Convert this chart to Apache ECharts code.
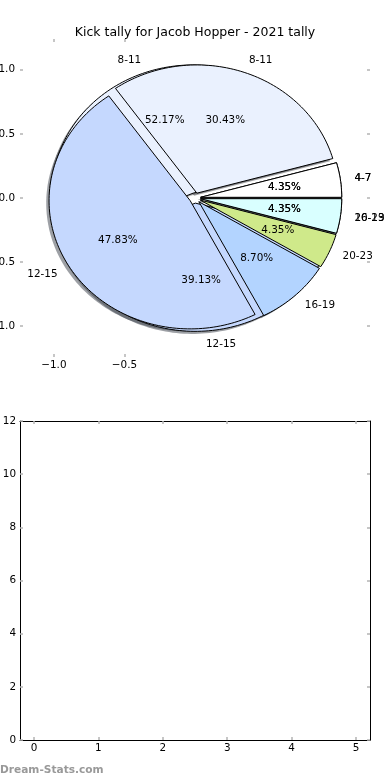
<!DOCTYPE html>
<html><head><meta charset="utf-8">
<script src="https://cdn.jsdelivr.net/npm/echarts@6/dist/echarts.min.js"></script>
<style>html,body{margin:0;padding:0;background:#fff}#c{width:390px;height:780px}</style>
</head><body><div id="c"></div>
<script>
// ---- data ----
const chartTitle = 'Kick tally for Jacob Hopper - 2021 tally';
const watermarkText = 'Dream-Stats.com';
const lowerPieLabels = ['4-7', '8-11', '12-15', '20-23'];
const lowerPieValues = [1, 12, 9, 1];
const upperPieLabels = ['4-7', '8-11', '12-15', '16-19', '20-23', '16-19'];
const upperPieValues = [1, 7, 11, 2, 1, 1];
const pieXTicks = [-1.0, -0.5];
const pieYTicks = [-1.0, -0.5, 0.0, 0.5, 1.0];
const panelXTicks = [0, 1, 2, 3, 4, 5];
const panelYTicks = [0, 2, 4, 6, 8, 10, 12];

// ---- styles ----
const WEDGE_COLORS = ['#ffffff', '#eaf1fe', '#c5d8fe', '#b3d4ff', '#cfe98a', '#d9ffff'];
const EXPLODE = 0.04, SHADOW_DX = -0.02, SHADOW_DY = -0.02;
const LABEL_DIST = 1.1, PCT_DIST = 0.6;
const FONT = '"DejaVu Sans"';
const FS = 10.4;

function layoutPie(values) {
  const total = values.reduce((a, b) => a + b, 0);
  let acc = 0;
  return values.map((v, i) => {
    const t1 = acc / total * 360; acc += v; const t2 = acc / total * 360;
    return [t1, t2, i, v / total * 100];
  });
}
function shadowColor(hex) {
  const r = parseInt(hex.slice(1, 3), 16), g = parseInt(hex.slice(3, 5), 16), b = parseInt(hex.slice(5, 7), 16);
  return 'rgba(' + Math.round(r * 0.3) + ',' + Math.round(g * 0.3) + ',' + Math.round(b * 0.3) + ',0.5)';
}
function wedgePoints(api, t1, t2, dx, dy) {
  const mid = (t1 + t2) / 2 * Math.PI / 180;
  const cx = EXPLODE * Math.cos(mid) + dx, cy = EXPLODE * Math.sin(mid) + dy;
  const pts = [api.coord([cx, cy])];
  const n = Math.max(4, Math.ceil((t2 - t1) / 1.5));
  for (let k = 0; k <= n; k++) {
    const a = (t1 + (t2 - t1) * k / n) * Math.PI / 180;
    pts.push(api.coord([cx + Math.cos(a), cy + Math.sin(a)]));
  }
  return pts;
}
function wedgeRenderer(shadow) {
  return function (params, api) {
    const t1 = api.value(0), t2 = api.value(1), ci = api.value(2);
    if (shadow) {
      return { type: 'polygon', shape: { points: wedgePoints(api, t1, t2, SHADOW_DX, SHADOW_DY) },
        style: { fill: shadowColor(WEDGE_COLORS[ci]), stroke: null } };
    }
    return { type: 'polygon', shape: { points: wedgePoints(api, t1, t2, 0, 0) },
      style: { fill: WEDGE_COLORS[ci], stroke: '#000', lineWidth: 1, lineJoin: 'miter' } };
  };
}
function labelRenderer(labels) {
  return function (params, api) {
    const t1 = api.value(0), t2 = api.value(1), pct = api.value(3);
    const mid = (t1 + t2) / 2 * Math.PI / 180;
    const cx = EXPLODE * Math.cos(mid), cy = EXPLODE * Math.sin(mid);
    const lx = cx + LABEL_DIST * Math.cos(mid), ly = cy + LABEL_DIST * Math.sin(mid);
    const px = cx + PCT_DIST * Math.cos(mid), py = cy + PCT_DIST * Math.sin(mid);
    const lp = api.coord([lx, ly]), pp = api.coord([px, py]);
    const al = lx > 0 ? 'left' : 'right';
    return { type: 'group', children: [
      { type: 'text', x: lp[0], y: lp[1], style: { text: labels[params.dataIndex], align: al, textAlign: al,
        verticalAlign: 'middle', textVerticalAlign: 'middle', fill: '#000', fontSize: FS, fontFamily: FONT } },
      { type: 'text', x: pp[0], y: pp[1], style: { text: pct.toFixed(2) + '%', align: 'center', textAlign: 'center',
        verticalAlign: 'middle', textVerticalAlign: 'middle', fill: '#000', fontSize: FS, fontFamily: FONT } }
    ] };
  };
}
const fmt1 = v => (v < 0 ? '\u2212' : '') + Math.abs(v).toFixed(1);
const fmt0 = v => (v < 0 ? '\u2212' : '') + Math.abs(v).toFixed(0);
const tickStyle = (vals) => ({ show: true, inside: true, length: 3, customValues: vals, lineStyle: { color: '#b4b4b4', width: 1.5 } });
const labelStyle = (vals, fmt, margin) => ({ show: true, customValues: vals, formatter: fmt, margin: margin,
  fontFamily: FONT, fontSize: FS, color: '#000' });
const noLabel = { show: false };

function axis(grid, min, max, pos, ticks, fmt, withLabel, line, margin) {
  return { gridIndex: grid, type: 'value', min: min, max: max, position: pos,
    axisLine: { show: line, onZero: false, lineStyle: { color: '#000', width: 1 } },
    splitLine: { show: false },
    axisTick: tickStyle(ticks),
    axisLabel: withLabel ? labelStyle(ticks, fmt, margin) : noLabel };
}

const lowerData = layoutPie(lowerPieValues);
const upperData = layoutPie(upperPieValues);

const option = {
  animation: false,
  backgroundColor: '#fff',
  title: { text: chartTitle, left: 'center', top: 21,
    textStyle: { fontFamily: FONT, fontSize: 12.5, fontWeight: 'normal', color: '#000' } },
  grid: [
    { left: 20, top: 39, width: 350, height: 318, outerBoundsMode: 'none', containLabel: false },
    { left: 20, top: 421, width: 350, height: 319, outerBoundsMode: 'none', containLabel: false }
  ],
  xAxis: [
    axis(0, -1.24, 1.24, 'bottom', pieXTicks, fmt1, true, false, 3),
    axis(0, -1.24, 1.24, 'top', pieXTicks, fmt1, false, false, 3),
    axis(1, -0.2174, 5.2174, 'bottom', panelXTicks, fmt0, true, true, 3),
    axis(1, -0.2174, 5.2174, 'top', panelXTicks, fmt0, false, true, 3)
  ],
  yAxis: [
    axis(0, -1.24, 1.24, 'left', pieYTicks, fmt1, true, false, 5),
    axis(0, -1.24, 1.24, 'right', pieYTicks, fmt1, false, false, 5),
    axis(1, 0, 12, 'left', panelYTicks, fmt0, true, true, 4),
    axis(1, 0, 12, 'right', panelYTicks, fmt0, false, true, 4)
  ],
  graphic: [
    { type: 'text', left: 0, top: 765, style: { text: watermarkText, fill: '#999', fontFamily: FONT, fontSize: 10.6, fontWeight: 'bold' } }
  ],
  series: [
    { type: 'custom', name: 'shadowLower', xAxisIndex: 0, yAxisIndex: 0, z: 1, silent: true, renderItem: wedgeRenderer(true), data: lowerData },
    { type: 'custom', name: 'shadowUpper', xAxisIndex: 0, yAxisIndex: 0, z: 1, silent: true, renderItem: wedgeRenderer(true), data: upperData },
    { type: 'custom', name: 'lowerPie', xAxisIndex: 0, yAxisIndex: 0, z: 2, renderItem: wedgeRenderer(false), data: lowerData },
    { type: 'custom', name: 'upperPie', xAxisIndex: 0, yAxisIndex: 0, z: 3, renderItem: wedgeRenderer(false), data: upperData },
    { type: 'custom', name: 'lowerLabels', xAxisIndex: 0, yAxisIndex: 0, z: 4, renderItem: labelRenderer(lowerPieLabels), data: lowerData },
    { type: 'custom', name: 'upperLabels', xAxisIndex: 0, yAxisIndex: 0, z: 4, renderItem: labelRenderer(upperPieLabels), data: upperData }
  ]
};
const chart = echarts.init(document.getElementById('c'), null, { renderer: 'canvas' });
chart.setOption(option);
</script>
</body></html>
